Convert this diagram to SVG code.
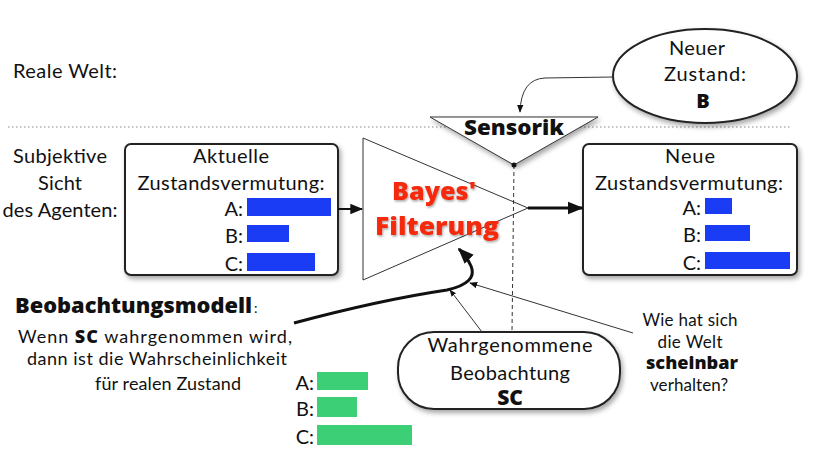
<svg xmlns="http://www.w3.org/2000/svg" width="813" height="457" viewBox="0 0 813 457">
<defs>
<style>
.t{font-family:Lato,"Open Sans","Liberation Sans",sans-serif;fill:#111;font-size:20px}
.b{font-weight:bold}
.xb{font-family:"Open Sans","Liberation Sans",sans-serif;font-weight:800}
.box{fill:#fff;stroke:#222;stroke-width:2}
.thin{fill:none;stroke:#333;stroke-width:1}
.bar{fill:#1a3cf5}
.gbar{fill:#3ccf76}
.bay{font-family:"Open Sans","Liberation Sans",sans-serif;font-weight:800;fill:#f52a10;font-size:24px}
</style>
<filter id="sh" x="-10%" y="-10%" width="125%" height="130%">
<feDropShadow dx="2" dy="3" stdDeviation="2.5" flood-color="#000" flood-opacity="0.35"/>
</filter>
<filter id="tsh" x="-10%" y="-20%" width="130%" height="150%">
<feDropShadow dx="1" dy="1.5" stdDeviation="1.2" flood-color="#000" flood-opacity="0.35"/>
</filter>
<marker id="ah" viewBox="0 0 10 10" refX="9" refY="5" markerWidth="8" markerHeight="8" orient="auto" markerUnits="userSpaceOnUse">
<path d="M0,1 L10,5 L0,9 z" fill="#111"/>
</marker>
<marker id="ahS" viewBox="0 0 10 10" refX="9" refY="5" markerWidth="7" markerHeight="7" orient="auto" markerUnits="userSpaceOnUse">
<path d="M0,1 L10,5 L0,9 z" fill="#111"/>
</marker>
<marker id="ahBig" viewBox="0 0 10 10" refX="9" refY="5" markerWidth="16" markerHeight="16" orient="auto" markerUnits="userSpaceOnUse">
<path d="M0,1 L10,5 L0,9 z" fill="#111"/>
</marker>
<marker id="ahMed" viewBox="0 0 10 10" refX="9" refY="5" markerWidth="13" markerHeight="13" orient="auto" markerUnits="userSpaceOnUse">
<path d="M0,1 L10,5 L0,9 z" fill="#111"/>
</marker>
</defs>
<rect width="813" height="457" fill="#fff"/>

<text class="t" x="13" y="78" textLength="104">Reale Welt:</text>
<line x1="8" y1="127" x2="790" y2="127" stroke="#888" stroke-width="1.2" stroke-dasharray="1.5 2.5"/>

<g id="subjektiv">
<text class="t" text-anchor="middle" x="60" y="163" textLength="94">Subjektive</text>
<text class="t" text-anchor="middle" x="60" y="190" textLength="44">Sicht</text>
<text class="t" text-anchor="middle" x="60" y="217" textLength="115">des Agenten:</text>
</g>

<g id="ellipse-neuer-zustand">
<ellipse cx="705" cy="76" rx="92" ry="47" class="box" filter="url(#sh)"/>
<text class="t" text-anchor="middle" x="697" y="55" textLength="56">Neuer</text>
<text class="t" text-anchor="middle" x="705" y="81" textLength="82">Zustand:</text>
<text class="t xb" text-anchor="middle" x="703" y="108">B</text>
</g>

<g id="sensorik">
<path d="M430,117 L598,117 L514,165 Z" fill="#fff" stroke="#333" stroke-width="1" filter="url(#sh)"/>
<text class="t xb" text-anchor="middle" x="514" y="135" textLength="100" lengthAdjust="spacingAndGlyphs" style="font-size:21px">Sensorik</text>
</g>

<g id="aktuelle">
<rect x="125" y="144" width="213" height="131" rx="6" class="box" filter="url(#sh)"/>
<text class="t" text-anchor="middle" x="231" y="163" textLength="76">Aktuelle</text>
<text class="t" text-anchor="middle" x="231" y="190" textLength="187">Zustandsvermutung:</text>
<text class="t" text-anchor="end" x="243" y="216">A:</text>
<text class="t" text-anchor="end" x="243" y="243">B:</text>
<text class="t" text-anchor="end" x="243" y="271">C:</text>
<rect class="bar" x="247" y="198" width="84" height="18"/>
<rect class="bar" x="247" y="225" width="42" height="17"/>
<rect class="bar" x="247" y="253" width="68" height="18"/>
</g>

<g id="bayes">
<path d="M363,138 L528,208 L363,280 Z" fill="#fff" stroke="#333" stroke-width="1"/>
<text class="bay" text-anchor="middle" x="434" y="200" textLength="84" lengthAdjust="spacingAndGlyphs" filter="url(#tsh)">Bayes'</text>
<text class="bay" text-anchor="middle" x="437" y="235" textLength="124" lengthAdjust="spacingAndGlyphs" filter="url(#tsh)">Filterung</text>
</g>

<g id="neue">
<rect x="583" y="144" width="214" height="131" rx="6" class="box" filter="url(#sh)"/>
<text class="t" text-anchor="middle" x="690" y="163" textLength="50">Neue</text>
<text class="t" text-anchor="middle" x="689" y="190" textLength="188">Zustandsvermutung:</text>
<text class="t" text-anchor="end" x="701" y="215">A:</text>
<text class="t" text-anchor="end" x="701" y="242">B:</text>
<text class="t" text-anchor="end" x="701" y="270">C:</text>
<rect class="bar" x="705" y="198" width="27" height="16"/>
<rect class="bar" x="705" y="225" width="45" height="16"/>
<rect class="bar" x="705" y="252" width="85" height="17"/>
</g>

<g id="wahrgenommen">
<rect x="398" y="332" width="222" height="77" rx="36" class="box" filter="url(#sh)"/>
<text class="t" text-anchor="middle" x="510" y="352" textLength="165">Wahrgenommene</text>
<text class="t" text-anchor="middle" x="510" y="380" textLength="120">Beobachtung</text>
<text class="t xb" text-anchor="middle" x="510" y="405" style="font-size:21px">SC</text>
</g>

<g id="beobachtungsmodell">
<text class="t xb" x="15" y="313" textLength="237" lengthAdjust="spacingAndGlyphs" style="font-size:21px">Beobachtungsmodell</text>
<text class="t" x="254" y="313" style="font-size:14px">:</text>
<text class="t" text-anchor="middle" x="155" y="343" textLength="274" style="font-size:18px">Wenn <tspan class="xb">SC</tspan> wahrgenommen wird,</text>
<text class="t" text-anchor="middle" x="157" y="365" textLength="260" style="font-size:18px">dann ist die Wahrscheinlichkeit</text>
<text class="t" text-anchor="middle" x="168" y="390" textLength="146" style="font-size:18px">für realen Zustand</text>
</g>

<g id="modell-werte">
<text class="t" text-anchor="end" x="314" y="390">A:</text>
<text class="t" text-anchor="end" x="314" y="416">B:</text>
<text class="t" text-anchor="end" x="314" y="444">C:</text>
<rect class="gbar" x="317" y="372" width="51" height="18"/>
<rect class="gbar" x="317" y="397" width="40" height="20"/>
<rect class="gbar" x="317" y="425" width="95" height="20"/>
</g>

<g id="wie-hat-sich">
<text class="t" text-anchor="middle" x="690" y="326" textLength="95" style="font-size:17px">Wie hat sich</text>
<text class="t" text-anchor="middle" x="690" y="348" textLength="65" style="font-size:17px">die Welt</text>
<text class="t xb" text-anchor="middle" x="692" y="369" textLength="92" lengthAdjust="spacingAndGlyphs" style="font-size:17px">scheinbar</text>
<text class="t" text-anchor="middle" x="689" y="391" textLength="78" style="font-size:17px">verhalten?</text>
</g>

<g id="connectors">
<path d="M613,77 L545,78 Q521,79 520,112" class="thin" marker-end="url(#ah)"/>
<line x1="514" y1="165" x2="512" y2="332" stroke="#333" stroke-width="1" stroke-dasharray="4 3"/>
<circle cx="514" cy="165" r="2.5" fill="#111"/>
<line x1="338" y1="209" x2="362" y2="209" stroke="#111" stroke-width="2" marker-end="url(#ahMed)"/>
<line x1="528" y1="208" x2="582" y2="208" stroke="#111" stroke-width="3" marker-end="url(#ahBig)"/>
<path d="M294,323 Q380,300 447,290 Q478,283 471,266 Q467,257 459,249" fill="none" stroke="#111" stroke-width="3" marker-end="url(#ahBig)"/>
<line x1="482" y1="332" x2="450" y2="290" class="thin" marker-end="url(#ahS)"/>
<line x1="633" y1="333" x2="470" y2="283" class="thin" marker-end="url(#ah)"/>
</g>
</svg>
